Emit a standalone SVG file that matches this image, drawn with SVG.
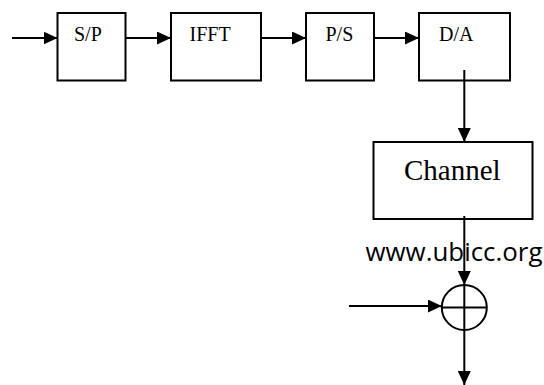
<svg xmlns="http://www.w3.org/2000/svg" width="544" height="385" viewBox="0 0 544 385">
<style>
.box{fill:#fff;stroke:#000;stroke-width:2}
.lbl{font-family:"Liberation Serif","Times New Roman",serif;fill:#000}
.con{stroke:#000;stroke-width:2;fill:none}
.wm{font-family:"Open Sans","Noto Sans",sans-serif;fill:#000}
</style>
<defs>
<marker id="ah" markerUnits="userSpaceOnUse" markerWidth="15" markerHeight="13" refX="14" refY="6.5" orient="auto">
<path d="M0,0 L14,6.5 L0,13 Z" fill="#000"/>
</marker>
</defs>
<g id="sp"><rect class="box" x="57.5" y="13" width="68" height="67.5"/><text class="lbl" x="74" y="41" font-size="20">S/P</text></g>
<g id="ifft"><rect class="box" x="171" y="13" width="90" height="67.5"/><text class="lbl" x="189.5" y="41" font-size="20">IFFT</text></g>
<g id="ps"><rect class="box" x="306" y="13" width="68" height="67.5"/><text class="lbl" x="325.5" y="41" font-size="20">P/S</text></g>
<g id="da"><rect class="box" x="419" y="13" width="91" height="67.5"/><text class="lbl" x="439" y="41" font-size="20">D/A</text></g>
<g id="channel"><rect class="box" x="373.5" y="142" width="159" height="77"/><text class="lbl" x="404" y="180" font-size="29">Channel</text></g>
<g id="adder"><circle class="box" cx="464.3" cy="307.5" r="22.5"/><line class="con" x1="441.8" y1="307.5" x2="486.8" y2="307.5"/><line class="con" x1="464.3" y1="285" x2="464.3" y2="330"/></g>
<g id="connectors">
<line class="con" x1="12" y1="38" x2="57.5" y2="38" marker-end="url(#ah)"/>
<line class="con" x1="125.5" y1="38" x2="171" y2="38" marker-end="url(#ah)"/>
<line class="con" x1="261" y1="38" x2="306" y2="38" marker-end="url(#ah)"/>
<line class="con" x1="374" y1="38" x2="419" y2="38" marker-end="url(#ah)"/>
<line class="con" x1="464.3" y1="70" x2="464.3" y2="142" marker-end="url(#ah)"/>
<line class="con" x1="464.3" y1="216" x2="464.3" y2="285" marker-end="url(#ah)"/>
<line class="con" x1="349" y1="306" x2="441.8" y2="306" marker-end="url(#ah)"/>
<line class="con" x1="464.3" y1="330" x2="464.3" y2="385" marker-end="url(#ah)"/>
</g>
<text class="wm" x="365.5" y="261" font-size="26" textLength="177" lengthAdjust="spacingAndGlyphs">www.ubicc.org</text>
</svg>
